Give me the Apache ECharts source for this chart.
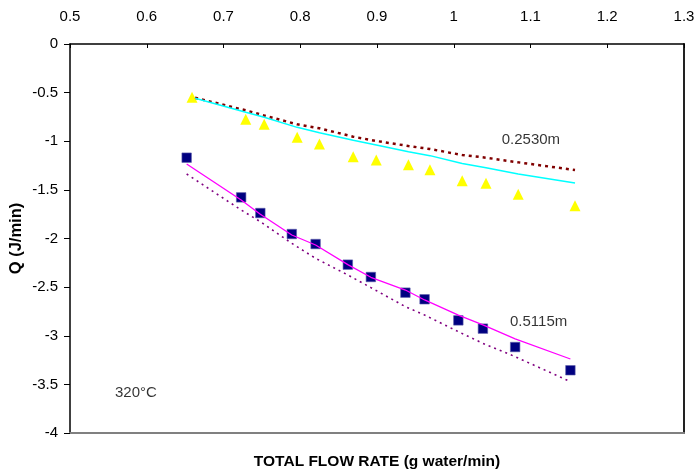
<!DOCTYPE html>
<html><head><meta charset="utf-8">
<script src="https://cdn.jsdelivr.net/npm/echarts@6/dist/echarts.min.js"></script>
<style>html,body{margin:0;padding:0;background:#fff}#c{width:697px;height:474px}</style>
</head><body><div id="c"></div>
<script>
// Measured data: 0.5115m (squares)
const sqX = [0.652,0.723,0.748,0.789,0.820,0.862,0.892,0.937,0.962,1.006,1.038,1.080,1.152];
const sqY = [-1.169,-1.577,-1.738,-1.954,-2.057,-2.269,-2.396,-2.557,-2.625,-2.842,-2.927,-3.116,-3.355];
// Measured data: 0.2530m (triangles)
const trX = [0.659,0.729,0.753,0.796,0.825,0.869,0.899,0.941,0.969,1.011,1.042,1.084,1.158];
const trY = [-0.548,-0.774,-0.826,-0.960,-1.028,-1.159,-1.193,-1.241,-1.293,-1.405,-1.433,-1.546,-1.662];
// Model curves 0.2530m
const cyanX = [0.663,0.729,0.753,0.796,0.825,0.869,0.899,0.941,0.969,1.011,1.042,1.084,1.158];
const cyanY = [-0.558,-0.702,-0.754,-0.857,-0.912,-0.990,-1.039,-1.107,-1.148,-1.228,-1.272,-1.337,-1.429];
const redX = [0.663,0.729,0.753,0.796,0.825,0.869,0.899,0.941,0.969,1.011,1.042,1.084,1.158];
const redY = [-0.553,-0.682,-0.735,-0.826,-0.867,-0.953,-0.997,-1.049,-1.080,-1.141,-1.169,-1.217,-1.296];
// Model curves 0.5115m
const magX = [0.652,0.723,0.748,0.789,0.820,0.862,0.892,0.937,0.962,1.006,1.038,1.080,1.152];
const magY = [-1.234,-1.604,-1.751,-1.964,-2.067,-2.269,-2.399,-2.530,-2.632,-2.787,-2.889,-3.033,-3.239];
const purX = [0.652,0.723,0.748,0.789,0.820,0.862,0.892,0.937,0.962,1.006,1.038,1.080,1.152];
const purY = [-1.337,-1.707,-1.827,-2.050,-2.204,-2.375,-2.505,-2.701,-2.787,-2.958,-3.078,-3.215,-3.472];
// Annotations
const noteText = ['0.2530m','0.5115m','320°C'];
const noteX = [1.0625,1.0733,0.5586];
const noteY = [-0.987,-2.859,-3.586];

const zip = (a,b) => a.map((v,i)=>[v,b[i]]);
const FONT = 'Arial, "Liberation Sans", sans-serif';
const chart = echarts.init(document.getElementById('c'), null, {renderer:'canvas'});
const common = {type:'value', min:0.5, max:1.3, interval:0.1, splitLine:{show:false}};
const commonY = {type:'value', min:-4, max:0, interval:0.5, splitLine:{show:false}};
chart.setOption({
  animation:false,
  backgroundColor:'#fff',
  grid:{left:70, right:13, top:44, bottom:41, containLabel:false, outerBoundsMode:'none'},
  xAxis:[
    Object.assign({}, common, {position:'top',
      axisLine:{show:true, onZero:false, lineStyle:{color:'#000', width:1.5}},
      axisTick:{show:true, inside:true, length:4, lineStyle:{color:'#000'}},
      axisLabel:{margin:20, color:'#000', fontSize:15, fontFamily:FONT}}),
    Object.assign({}, common, {position:'bottom',
      axisLine:{show:true, onZero:false, lineStyle:{color:'#808080', width:2}},
      axisTick:{show:false}, axisLabel:{show:false},
      name:'TOTAL FLOW RATE (g water/min)', nameLocation:'middle', nameGap:21,
      nameMoveOverlap:false,
      nameTextStyle:{color:'#000', fontWeight:'bold', fontSize:15.5, fontFamily:FONT}})
  ],
  yAxis:[
    Object.assign({}, commonY, {position:'left',
      axisLine:{show:true, onZero:false, lineStyle:{color:'#000', width:1.5}},
      axisTick:{show:true, inside:false, length:6, lineStyle:{color:'#000'}},
      axisLabel:{margin:12, color:'#000', fontSize:15, fontFamily:FONT},
      name:'Q (J/min)', nameLocation:'middle', nameGap:45, nameMoveOverlap:false,
      nameTextStyle:{color:'#000', fontWeight:'bold', fontSize:16.5, fontFamily:FONT}}),
    Object.assign({}, commonY, {position:'right',
      axisLine:{show:true, onZero:false, lineStyle:{color:'#222', width:2}},
      axisTick:{show:false}, axisLabel:{show:false}})
  ],
  series:[
    {type:'line', data:zip(redX,redY), showSymbol:false, symbol:'none',
      lineStyle:{color:'#800000', width:2.5, type:[3,4]}},
    {type:'line', data:zip(cyanX,cyanY), showSymbol:false, symbol:'none',
      lineStyle:{color:'#00FFFF', width:1.5}},
    {type:'line', data:zip(purX,purY), showSymbol:false, symbol:'none',
      lineStyle:{color:'#800080', width:1.6, type:[2,4]}},
    {type:'line', data:zip(magX,magY), showSymbol:false, symbol:'none',
      lineStyle:{color:'#FF00FF', width:1.3}},
    {type:'scatter', data:zip(trX,trY), symbol:'triangle', symbolSize:[11,11],
      itemStyle:{color:'#FFFF00', opacity:1}},
    {type:'scatter', data:zip(sqX,sqY), symbol:'rect', symbolSize:9.5,
      itemStyle:{color:'#000080', opacity:1, borderColor:'#5a5aa8', borderWidth:0.6}},
    {type:'scatter', data:noteText.map((t,i)=>({value:[noteX[i],noteY[i]], name:t})),
      symbolSize:0, silent:true,
      label:{show:true, position:'right', distance:0, formatter:p=>p.name,
        color:'#000', fontSize:15, fontFamily:FONT}}
  ]
});
</script>
</body></html>
